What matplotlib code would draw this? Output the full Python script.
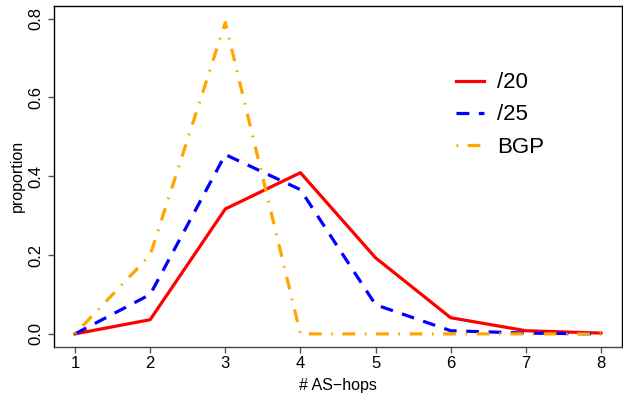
import numpy as np
import matplotlib.pyplot as plt

plt.rcParams['font.family'] = ['Liberation Sans', 'DejaVu Sans']

hops = [1, 2, 3, 4, 5, 6, 7, 8]
p20 = [0.0, 0.036, 0.317, 0.409, 0.193, 0.041, 0.008, 0.002]
p25 = [0.0, 0.100, 0.455, 0.366, 0.074, 0.008, 0.002, 0.0]
bgp = [0.0, 0.200, 0.790, 0.0, 0.0, 0.0, 0.0, 0.0]
yticks = [0.0, 0.2, 0.4, 0.6, 0.8]

fig = plt.figure(figsize=(6.23, 3.99), dpi=100)
ax = fig.add_axes([54/623, (399-346.5)/399, (622-54)/623, (346.5-6)/399])

ax.plot(hops, p20, color='#FF0000', lw=2.3, label='/20')
ax.plot(hops, p25, color='#0000FF', lw=2.3, dashes=(4, 3), label='/25')
ax.plot(hops, bgp, color='#FFA500', lw=2.3, dashes=(0.5, 3, 4, 3), label='BGP')

ax.set_xlim(0.72, 8.28)
ax.set_ylim(-0.032, 0.832)
ax.set_xticks(hops)
ax.set_yticks(yticks)
ax.set_yticklabels(['%.1f' % v for v in yticks], rotation=90, va='center')
ax.tick_params(direction='out', length=4.3, width=1, color='#555555', labelsize=12)
ax.tick_params(axis='x', pad=2.5)
ax.tick_params(axis='y', pad=3.5)
for s in ax.spines.values():
    s.set_linewidth(1)
    s.set_color('black')
ax.spines['bottom'].set_color('#444444')

ax.set_xlabel('# AS\u2212hops', fontsize=11.5, labelpad=5)
ax.set_ylabel('proportion', fontsize=11.5, labelpad=2)

ax.legend(loc='center left', bbox_to_anchor=(0.708, 0.68), frameon=False, fontsize=16,
          handlelength=1.26, handletextpad=0.59, labelspacing=0.5,
          borderpad=0, borderaxespad=0)

fig.savefig('out.png', dpi=100)
